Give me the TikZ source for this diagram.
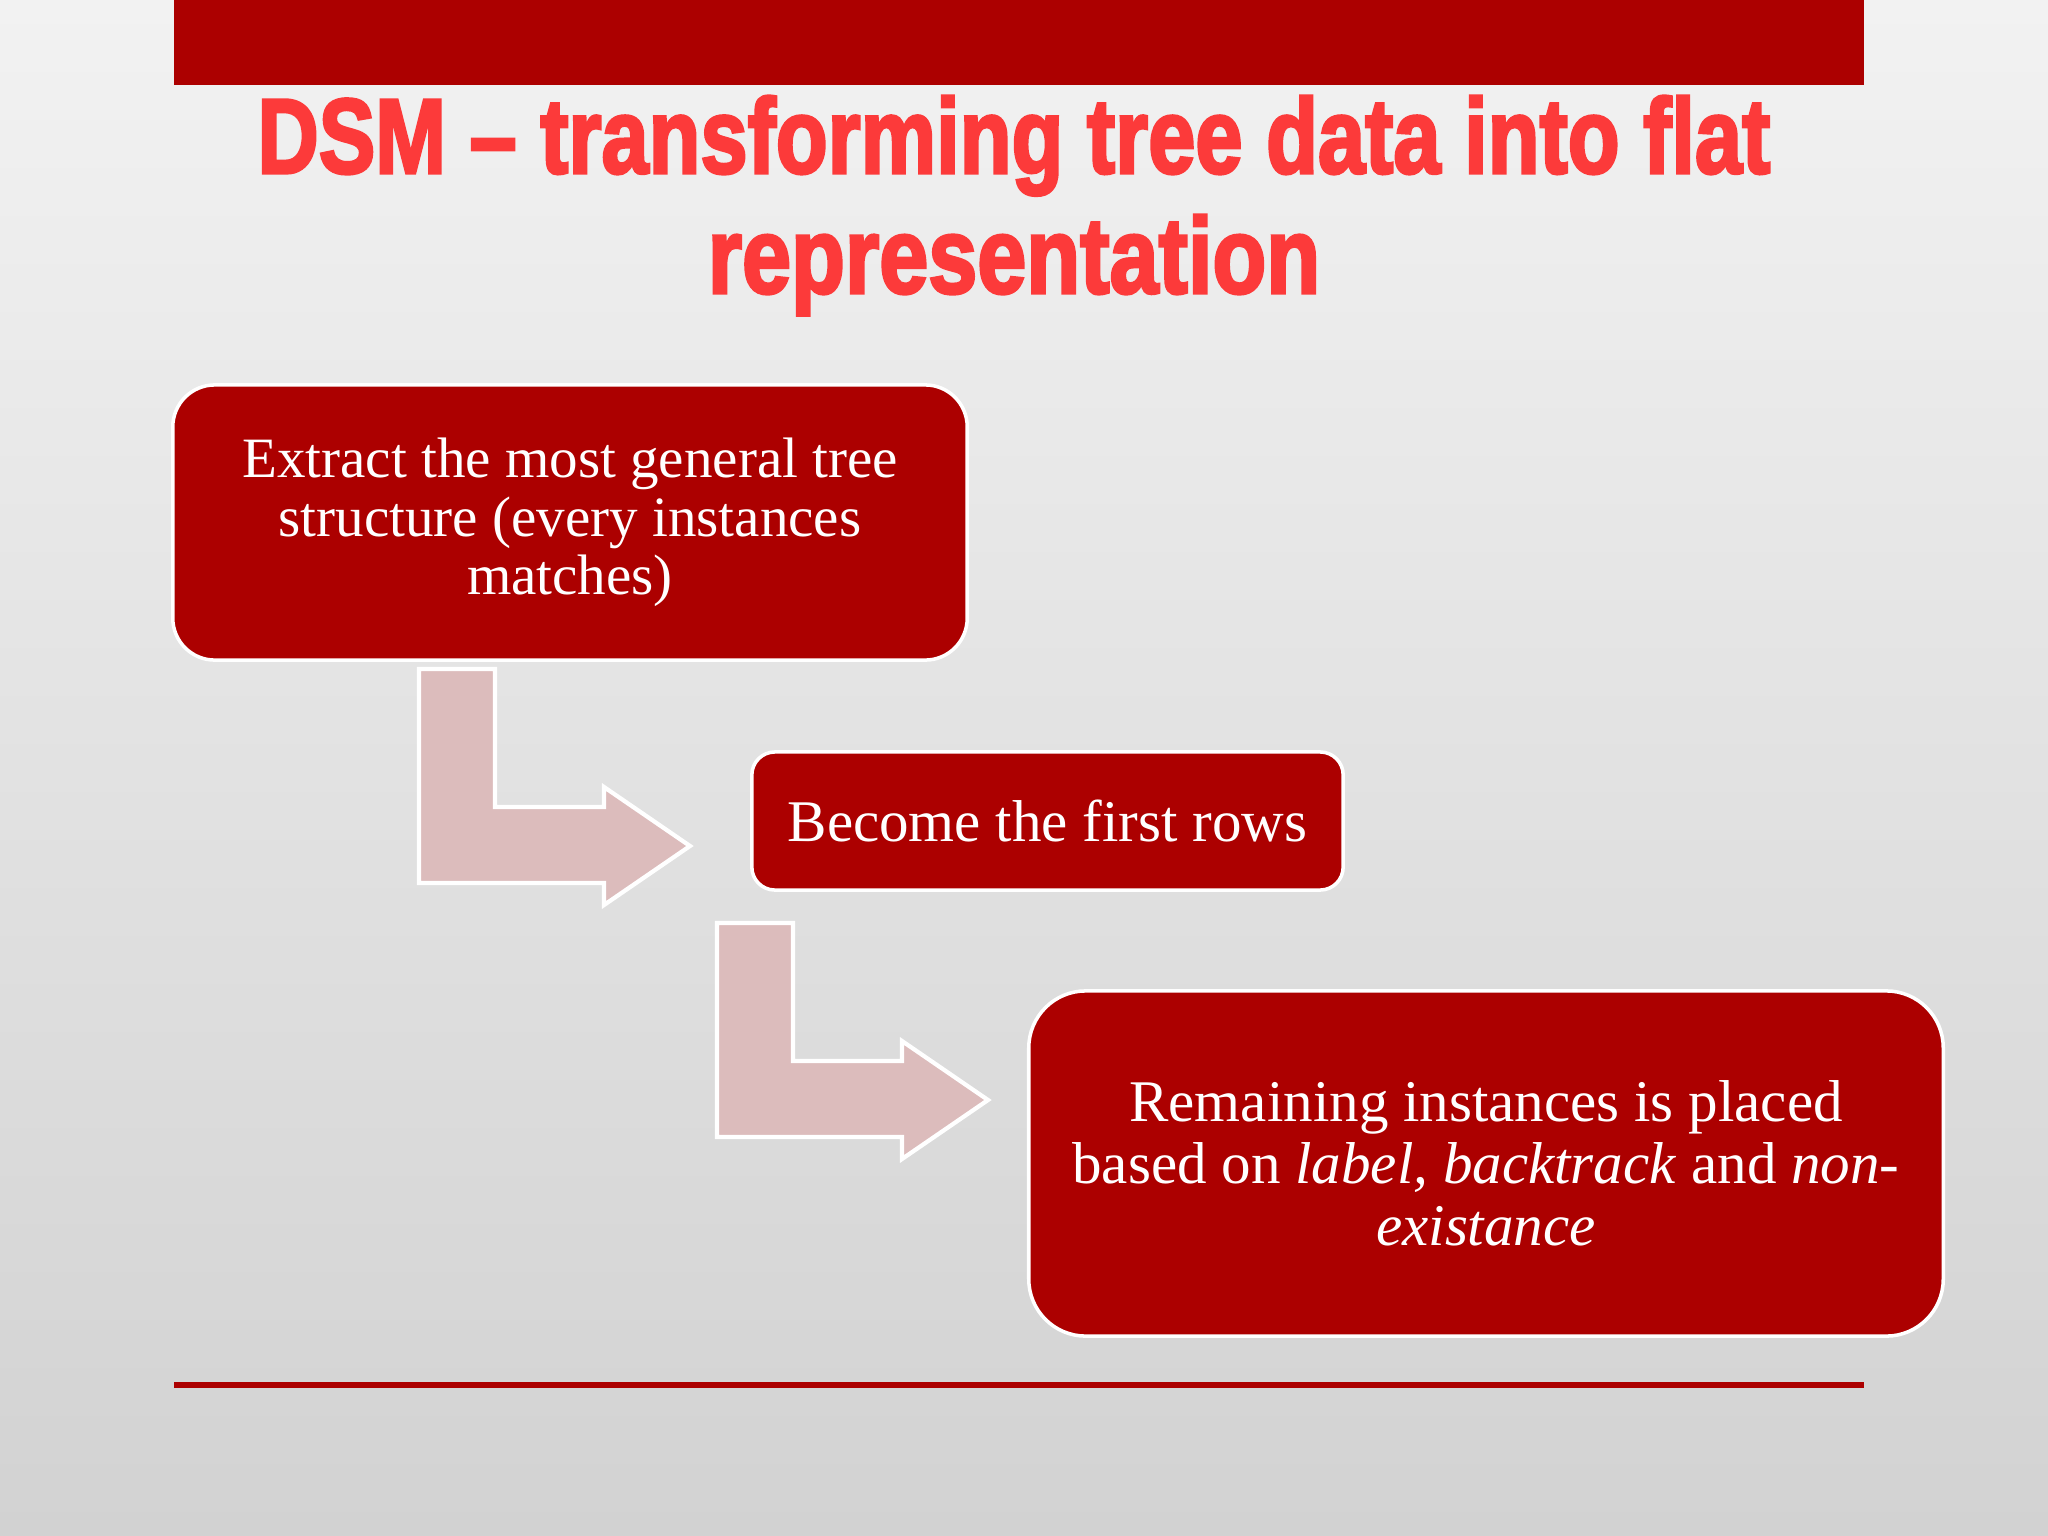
\documentclass[tikz,border=0pt]{standalone}
\usepackage{fontspec}
\setmainfont{Liberation Serif}
\newfontfamily\titlefont[BoldFeatures={FakeBold=3}]{Liberation Sans}
\usetikzlibrary{shadings}
\definecolor{slidered}{RGB}{172,0,0}
\definecolor{titlered}{RGB}{252,58,58}
\definecolor{arrowpink}{RGB}{220,188,188}
\definecolor{bgtop}{RGB}{242,242,242}
\definecolor{bgmid}{RGB}{231,231,231}
\definecolor{bgbot}{RGB}{210,210,210}
\tikzset{
  stepbox/.style={draw=white, line width=1pt, fill=slidered, text=white, align=center, inner sep=0pt},
  bentarrow/.style={draw=white, line width=1.2pt, fill=arrowpink, line join=miter},
  titletext/.style={text=titlered, inner sep=0pt, anchor=base},
  rule/.style={fill=slidered}
}
\begin{document}
\begin{tikzpicture}[x=0.01cm, y=-0.01cm]
\useasboundingbox (0,0) rectangle (2048,1536);
\shade[top color=bgtop, middle color=bgmid, bottom color=bgbot] (0,0) rectangle (2048,1536);
% top bar and bottom rule
\fill[rule] (174,0) rectangle (1864,85);
\fill[rule] (174,1382) rectangle (1864,1388);
% title
\node[titletext] (t1) at (1014,173) {\resizebox{15.12cm}{0.77cm}{\titlefont\bfseries DSM – transforming tree data into flat}};
\node[titletext] (t2) at (1014,293) {\resizebox{6.12cm}{0.78cm}{\titlefont\bfseries representation}};
% bent arrows
\draw[bentarrow] (419,669) -- (495,669) -- (495,807) -- (604,807) -- (604,787) -- (690,846) -- (604,905) -- (604,883) -- (419,883) -- cycle;
\draw[bentarrow, shift={(298,254)}] (419,669) -- (495,669) -- (495,807) -- (604,807) -- (604,787) -- (690,846) -- (604,905) -- (604,883) -- (419,883) -- cycle;
% boxes
\node[stepbox, minimum width=7.94cm, minimum height=2.75cm, rounded corners=0.42cm,
      font=\fontsize{16.22pt}{16.59pt}\selectfont] (b1) at (570,522.5)
  {Extract the most general tree\\ structure (every instances\\ matches)};
\node[stepbox, minimum width=5.91cm, minimum height=1.38cm, rounded corners=0.23cm,
      font=\fontsize{16.79pt}{17.64pt}\selectfont] (b2) at (1047.5,821)
  {Become the first rows};
\node[stepbox, minimum width=9.14cm, minimum height=3.45cm, rounded corners=0.57cm,
      font=\fontsize{16.79pt}{17.64pt}\selectfont] (b3) at (1486,1163.5)
  {Remaining instances is placed\\ based on \textit{label, backtrack} and \textit{non-}\\ \textit{existance}};
\end{tikzpicture}
\end{document}
